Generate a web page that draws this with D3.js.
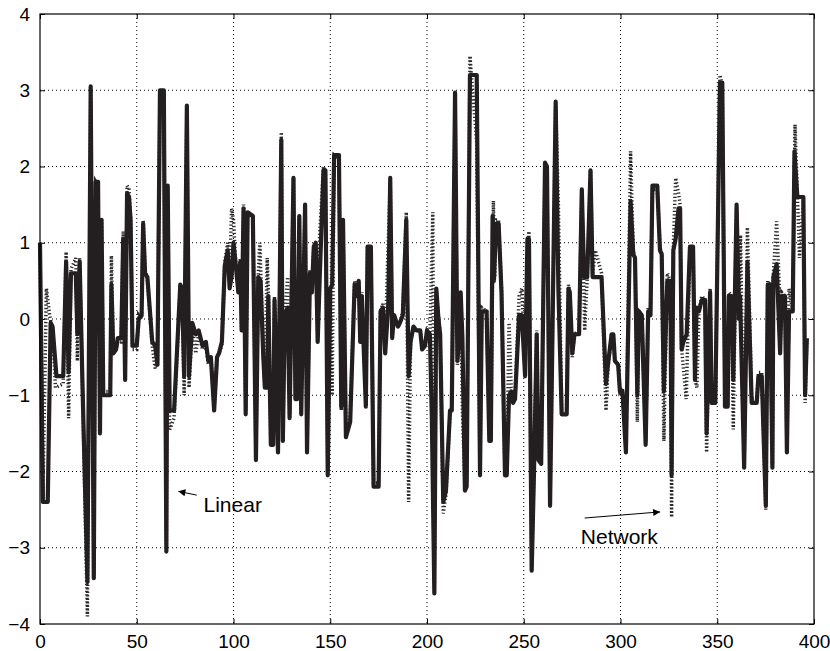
<!DOCTYPE html>
<html lang="en">
<head>
<meta charset="UTF-8">
<title>Linear vs Network</title>
<style>
  body { margin: 0; background: #fff; }
  svg { display: block; }
  .grid line { stroke: #000; stroke-width: 1; stroke-dasharray: 1,3; }
  .axis text { font-family: "Liberation Sans", Arial, sans-serif; font-size: 19px; fill: #000; }
  .axis line { stroke: #000; stroke-width: 1; }
  .axis path { display: none; }
  .note { font-family: "Liberation Sans", Arial, sans-serif; font-size: 21px; fill: #000; }
</style>
<script src="https://d3js.org/d3.v7.min.js"></script>
</head>
<body>
<div id="chart"></div>
<script>
// vertices of the thick "Linear" curve
var linearX = [0,1.5,4,5.5,6.5,8.5,12,13.5,14.8,16,18.5,19.3,20.5,22,24.5,26.2,27.8,28.8,30,31,31.8,32.7,36.3,36.9,37.9,39.3,40.2,42,43,44,45,46,46.8,47.8,50,
  51,52.5,53.3,54.3,55.5,58,59.5,60.7,62,64,65.3,66,67,69.3,72.5,73.4,74.5,75.9,77,78.7,80.5,82,84,85.7,87,88.3,90,91.5,92.5,94,95.5,97,98,99,100,
  101,102.5,103.5,104.2,105.2,106.3,107.3,110,111.6,112.8,114,115.4,116.2,117.4,118,119.3,120.5,121.2,123,124.7,125.5,126.5,128,129,131,132,133,134,135,137,138,139.5,140.5,141.5,142.5,143.5,144.5,146.5,147.5,148.7,
  150,151,152,154.5,155.7,156.6,158.1,160.3,162.6,163.5,164.7,165.5,166.3,168.4,169.3,171,172.4,175,176,177.2,178.4,180,181,182,183,185,186,187.5,189.3,190.5,191.5,193,194.5,196.5,197.5,199,
  200,201.5,202.5,203.8,204.8,205.9,206.8,208.4,209.8,211.9,212.8,214.5,215.7,216.7,217.4,218.3,219.6,220.5,222.2,225.7,227.4,228.3,230.8,232.2,233,233.9,234.6,235.7,237,238.5,240.3,241.2,242.4,243.5,244.5,245.5,247.6,249,
  250.7,251.9,252.7,254.1,255.3,256.7,257.6,259,261,262,263.6,266.5,267.9,269.6,272.2,273.1,273.8,275.1,276.2,278.6,280,281.2,282.8,284.5,285.6,290.2,292.5,293.5,295.4,296.3,297.1,298.8,299.7,
  301,302.8,305.2,306.6,307.5,308.7,309.5,311,313,314.3,315.5,316.5,319,320.4,321.3,322.4,324.2,325.8,326.4,327.3,328.5,330,330.8,331.6,332.5,334.2,335.9,337.5,338.5,339.3,340.5,342,343.7,344.5,346.3,347.1,349,
  351.4,352.6,354,355.4,356,357.4,358.3,360,361.2,361.8,363.9,365.6,367.8,370.4,371.3,373,375.1,376.1,377.2,378.5,379,380.7,382.5,383.3,385,386,387.1,389,389.9,391.4,394.5,395.4,396.3];
var linearY = [1.0,-2.4,-2.4,-0.05,-0.1,-0.75,-0.75,0.75,-0.7,0.6,0.6,-0.2,0.75,-0.9,-3.45,3.05,-3.4,1.8,1.8,-1.5,1.3,-1.0,-1.0,0.45,-0.45,-0.4,-0.25,-0.25,1.05,-0.8,1.65,1.6,1.3,-0.35,-0.35,
  0.0,0.05,1.25,0.6,0.55,-0.3,-0.35,-0.6,3.0,3.0,-3.05,1.75,-1.2,-1.2,0.45,0.4,-0.75,2.8,-0.75,-0.05,-0.2,-0.15,-0.35,-0.3,-0.55,-0.5,-1.2,-0.5,-0.45,-0.3,0.7,0.9,0.4,0.55,1.0,
  0.75,0.35,0.75,-0.15,1.45,-1.25,1.4,1.35,-1.85,0.55,0.5,-0.5,-0.9,-0.9,0.3,-1.65,-1.65,0.25,-1.75,2.35,-1.6,0.05,0.15,-1.3,1.85,-1.05,-1.05,1.35,-1.25,1.5,-1.75,0.6,0.35,0.95,1.0,-0.3,0.5,1.95,1.95,-2.05,
  0.4,0.45,2.15,2.15,-1.15,1.3,-1.55,-1.35,0.45,0.3,0.5,-0.3,0.3,-1.15,0.95,0.95,-2.2,-2.2,0.1,0.15,-0.45,0.2,1.85,-0.25,0.05,-0.1,-0.05,0.05,1.3,-0.75,-0.3,-0.1,-0.15,-0.15,-0.4,-0.35,
  -0.15,-0.2,-1.3,-3.6,0.4,0.0,-0.2,-2.4,-2.25,-1.2,-1.2,2.97,-0.55,-0.25,0.35,-0.25,-2.25,-2.2,3.2,3.2,-2.05,0.1,0.1,-1.6,-1.6,1.35,0.5,1.25,1.25,0.35,-2.05,-2.05,-1.0,-0.95,-1.1,-1.05,0.05,0.05,
  -0.75,1.05,1.05,-3.3,-2.0,-0.2,-1.85,-1.9,2.05,2.0,-2.45,2.85,0.4,-1.25,-1.25,0.4,0.35,-0.45,-0.2,-0.2,1.7,0.55,0.55,1.95,0.55,0.55,-0.85,-0.6,-0.2,-0.2,-0.55,-0.6,-0.95,
  -0.95,-1.75,1.55,0.85,0.8,-1.0,0.1,0.05,-1.65,0.1,0.05,1.75,1.75,0.9,0.85,-0.95,0.5,0.5,-2.05,0.9,1.05,1.45,1.45,-0.4,-0.3,-0.2,0.95,0.95,-0.8,0.15,0.1,0.25,0.25,-1.5,0.35,-1.1,-1.1,
  3.1,3.1,-1.15,-1.15,0.3,0.3,-0.8,1.5,0.0,0.3,-1.95,0.75,-1.1,-1.1,-0.75,-0.75,-2.45,0.45,0.45,-1.95,0.55,0.72,-0.45,0.3,0.3,-1.75,0.1,0.1,2.2,1.6,1.6,-1.0,-0.25];

// vertices of the dotted "Network" curve
var networkX = [0,1.5,3.3,5,6.5,8,12,13.5,14.8,16,18.5,19.3,20.5,22,24.5,26.2,27.8,28.8,30,31,31.8,32.7,36.3,36.9,37.9,39.3,40.2,42,43,44,45,46,46.8,47.8,50,
  51,52.5,53.3,54.3,55.5,58,59.5,60.7,62,64,65.3,66,67,69.3,72.5,73.4,74.5,75.9,77,78.7,80.5,82,84,85.7,87,88.3,90,91.5,92.5,94,95.5,97,98,99,100,
  101,102.5,103.5,104.2,105.2,106.3,107.3,110,111.6,112.8,113.6,115.4,116.2,117.4,118,119.3,120.5,121.2,123,124.7,125.5,126.5,128,129,131,132,133,134,135,137,138,139.5,140.5,141.5,142.5,143.5,144.5,146.5,147.5,148.7,
  150,151,152,154.5,155.7,156.6,158.1,160.3,162.6,163.5,164.7,165.5,166.3,168.4,169.3,171,172.4,175,176,177.2,178.4,179.5,181,182,183,185,186,187.5,189.3,190.5,191.5,193,194.5,196.5,197.5,199,
  200,201.5,203,203.8,204.8,205.9,206.8,208.4,209.8,211.9,212.8,214.5,215.7,216.7,217.4,218.3,219.6,220.5,222.2,225.7,227.4,228.3,230.8,232.2,233,234.3,235,235.7,237,238.5,240.3,241.2,242.4,243.5,244.5,245.5,247.6,249,
  250.7,251.9,252.7,254.1,255.3,256.7,257.6,259,261,262,263.6,266.5,267.9,269.6,272.2,273.1,273.8,275.1,276.2,278.6,280,281.5,282.8,284.5,285.6,287,290.2,292.5,293.5,295.4,296.3,297.1,298.8,299.7,
  301,302.8,305.2,306.6,307.5,308.7,309.5,311,313,314.3,315.5,316.5,319,320.4,321.3,322.4,324.2,325.8,326.4,327.3,328.5,330,330.8,331.6,334,335.9,337.5,338.5,339.5,340.5,342,343.7,344.5,346.3,347.1,349,
  351.4,352.6,354,355.4,356,357.4,358.3,360,361.2,362,363.9,365.6,367.8,370.4,371.3,373,375.1,376.1,377.2,378.5,379,380.7,382.5,383.3,385,386,387.1,389,390.2,392.5,394.5,395.4,396.3];
var networkY = [1.0,-2.35,0.4,0.05,-0.15,-0.9,-0.85,0.88,-1.3,0.65,0.8,-0.55,0.8,-0.95,-3.9,3.0,-3.35,1.8,1.75,-1.45,1.3,-0.95,-0.95,0.83,-0.45,-0.4,-0.3,-0.3,1.15,-0.8,1.75,1.7,1.35,-0.4,-0.4,
  0.05,0.0,1.3,0.65,0.5,-0.35,-0.65,-0.55,3.0,2.95,-2.95,1.7,-1.45,-1.3,0.45,0.35,-1.0,2.75,-0.9,-0.1,-0.45,-0.2,-0.4,-0.35,-0.6,-0.5,-1.15,-0.5,-0.45,-0.35,0.75,1.0,0.5,1.45,1.3,
  0.8,0.4,0.8,-0.1,1.5,-1.2,1.4,1.35,-1.8,0.6,1.0,-0.45,-0.85,0.8,0.35,-1.6,-1.6,0.3,-1.7,2.45,-1.55,0.1,0.55,-1.25,1.85,-1.0,-1.0,1.35,-1.2,1.5,-1.7,0.65,0.4,0.95,1.0,-0.25,1.1,2.0,1.9,-2.0,
  0.4,-1.0,2.15,2.1,-1.2,1.25,-1.5,-1.3,0.5,0.35,0.5,-0.3,0.35,-1.1,0.95,0.9,-2.15,-2.15,0.1,0.2,-0.4,0.65,1.8,-0.2,0.05,-0.1,-0.05,0.1,1.4,-2.4,-0.3,-0.1,-0.15,-0.15,-0.35,-0.3,
  -0.15,-0.2,1.4,-3.5,0.35,0.05,-0.2,-2.55,-2.3,-1.25,-1.15,2.9,-0.6,-0.25,0.3,-1.2,-2.2,-2.15,3.45,2.3,-2.0,0.15,0.1,-1.55,-1.55,1.55,0.55,1.3,1.3,0.4,-2.0,-2.0,-0.05,-0.9,-1.05,-1.0,0.3,0.4,
  -0.7,0.95,1.15,-3.25,-1.95,-0.15,-1.8,-1.85,2.05,2.0,-2.4,2.8,1.5,-1.2,-1.2,0.45,0.35,-0.5,-0.2,-0.15,1.65,-0.15,0.55,1.95,0.6,0.9,0.6,-1.2,-0.65,-0.2,-0.25,-0.55,-0.6,-0.95,
  -0.9,-1.7,2.2,0.9,0.8,-1.35,0.1,0.05,-1.6,0.15,0.1,1.7,1.7,0.95,0.85,-1.6,0.6,0.5,-2.6,0.95,1.85,1.65,1.5,-0.4,-1.05,0.95,0.9,-0.8,-0.9,0.1,0.3,0.25,-1.75,0.4,-1.05,-1.05,
  3.2,3.05,-1.1,-1.1,0.35,0.3,-1.45,1.45,0.05,1.1,-1.9,1.2,-1.05,-1.05,-0.7,-0.7,-2.5,0.5,0.45,-1.9,0.6,1.28,0.15,0.35,0.3,-1.7,0.4,0.1,2.55,0.8,1.55,-1.1,-0.25];

var xTicks = [0, 50, 100, 150, 200, 250, 300, 350, 400];
var yTicks = [-4, -3, -2, -1, 0, 1, 2, 3, 4];

// text notes with arrow tail / head in data units
var noteNames = ["Linear", "Network"];
var noteTextX = [84.5, 279.5];
var noteTextY = [-2.43, -2.85];
var noteTailX = [81, 281.5];
var noteTailY = [-2.31, -2.61];
var noteHeadX = [71.5, 320.5];
var noteHeadY = [-2.26, -2.53];

var fullWidth = 830, fullHeight = 651;
var plotL = 40, plotR = 814, plotT = 14, plotB = 624;

var x = d3.scaleLinear().domain([0, 400]).range([plotL, plotR]);
var y = d3.scaleLinear().domain([-4, 4]).range([plotB, plotT]);

var svg = d3.select("#chart").append("svg")
    .attr("width", fullWidth)
    .attr("height", fullHeight);

svg.append("defs").append("marker")
    .attr("id", "head")
    .attr("viewBox", "0 0 10 10")
    .attr("refX", 10)
    .attr("refY", 5)
    .attr("markerWidth", 14)
    .attr("markerHeight", 7)
    .attr("markerUnits", "userSpaceOnUse")
    .attr("orient", "auto")
  .append("path")
    .attr("d", "M0,0 L10,5 L0,10 Z")
    .attr("fill", "#000");

// dotted grid
var grid = svg.append("g").attr("class", "grid");
grid.selectAll(".gx")
    .data(xTicks.slice(1, -1))
    .enter().append("line")
    .attr("x1", function(d) { return x(d); })
    .attr("x2", function(d) { return x(d); })
    .attr("y1", plotT)
    .attr("y2", plotB);
grid.selectAll(".gy")
    .data(yTicks.slice(1, -1))
    .enter().append("line")
    .attr("x1", plotL)
    .attr("x2", plotR)
    .attr("y1", function(d) { return y(d); })
    .attr("y2", function(d) { return y(d); });

function fmt(d) { return d < 0 ? "\u2212" + Math.abs(d) : String(d); }

svg.append("g").attr("class", "axis")
    .attr("transform", "translate(0," + plotB + ")")
    .call(d3.axisBottom(x).tickValues(xTicks).tickSize(-5).tickPadding(11).tickFormat(fmt));
svg.append("g").attr("class", "axis")
    .attr("transform", "translate(0," + plotT + ")")
    .call(d3.axisTop(x).tickValues(xTicks).tickSize(-5).tickFormat(""));
svg.append("g").attr("class", "axis")
    .attr("transform", "translate(" + plotL + ",0)")
    .call(d3.axisLeft(y).tickValues(yTicks).tickSize(-5).tickPadding(10).tickFormat(fmt));
svg.append("g").attr("class", "axis")
    .attr("transform", "translate(" + plotR + ",0)")
    .call(d3.axisRight(y).tickValues(yTicks).tickSize(-5).tickFormat(""));
svg.selectAll(".axis").attr("font-family", null).attr("font-size", null);

var line = d3.line()
    .x(function(d) { return x(d[0]); })
    .y(function(d) { return y(d[1]); });

var networkPts = d3.zip(networkX, networkY);
var linearPts = d3.zip(linearX, linearY);

svg.append("path")
    .datum(networkPts)
    .attr("d", line)
    .attr("fill", "none")
    .attr("stroke", "#2a2a2a")
    .attr("stroke-width", 3.5)
    .attr("stroke-dasharray", "1.3,2.2");

svg.append("path")
    .datum(linearPts)
    .attr("d", line)
    .attr("fill", "none")
    .attr("stroke", "#231f20")
    .attr("stroke-width", 4.2)
    .attr("stroke-linejoin", "round");

// box
svg.append("rect")
    .attr("x", plotL)
    .attr("y", plotT)
    .attr("width", plotR - plotL)
    .attr("height", plotB - plotT)
    .attr("fill", "none")
    .attr("stroke", "#000")
    .attr("stroke-width", 1.2);

// notes with arrows
noteNames.forEach(function(name, i) {
  svg.append("line")
      .attr("x1", x(noteTailX[i])).attr("y1", y(noteTailY[i]))
      .attr("x2", x(noteHeadX[i])).attr("y2", y(noteHeadY[i]))
      .attr("stroke", "#000")
      .attr("stroke-width", 1)
      .attr("marker-end", "url(#head)");
  svg.append("text")
      .attr("class", "note")
      .attr("x", x(noteTextX[i]))
      .attr("y", y(noteTextY[i]))
      .attr("dy", "0.35em")
      .text(name);
});
</script>
</body>
</html>
